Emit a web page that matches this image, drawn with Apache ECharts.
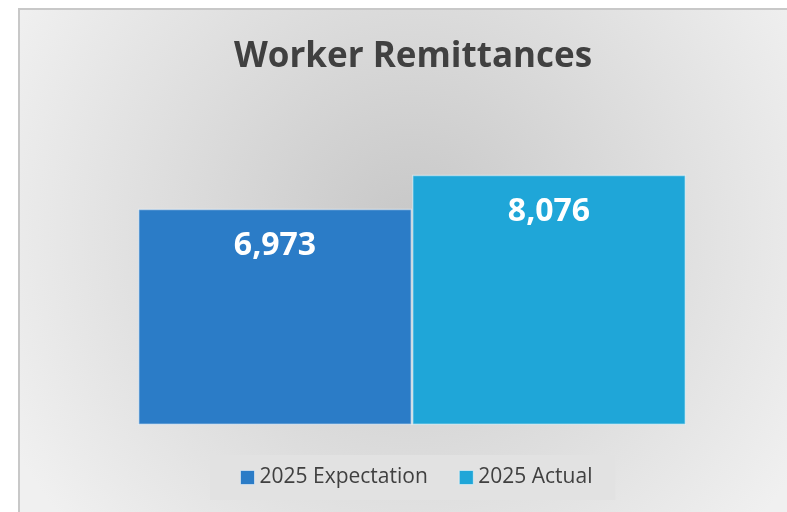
<!DOCTYPE html>
<html>
<head>
<meta charset="utf-8">
<style>
  html, body { margin: 0; padding: 0; background: #ffffff; }
  #chart { width: 787px; height: 512px; }
</style>
<script src="https://cdn.jsdelivr.net/npm/echarts@6/dist/echarts.min.js"></script>
</head>
<body>
<div id="chart"></div>
<script>
// Worker remittances, 2025: expectation vs. actual
const categories = ['2025'];
const seriesNames = ['2025 Expectation', '2025 Actual'];
const expectationValues = [6973];
const actualValues = [8076];
const chartTitle = 'Worker Remittances';

const colors = ['#2b7cc7', '#1fa6d8'];
const fontFamily = '"Open Sans", "Noto Sans", sans-serif';

const chart = echarts.init(document.getElementById('chart'), null, { renderer: 'canvas' });

const fmt = (v) => v.toLocaleString('en-US');

function barSeries(name, data, color) {
  return {
    name: name,
    type: 'bar',
    data: data,
    barGap: 0,
    barCategoryGap: 0,
    itemStyle: {
      color: color,
      borderColor: 'rgba(255,255,255,0.45)',
      borderWidth: 1.5
    },
    label: {
      show: true,
      position: 'insideTop',
      distance: 21,
      color: '#ffffff',
      fontSize: 32,
      fontWeight: 'bold',
      fontFamily: fontFamily,
      formatter: (p) => fmt(p.value)
    }
  };
}

chart.setOption({
  animation: false,
  graphic: [{
    type: 'rect',
    z: -10,
    silent: true,
    shape: { x: 19, y: 9, width: 800, height: 530 },
    style: {
      fill: {
        type: 'radial',
        x: 0.49, y: 0.42, r: 0.85,
        colorStops: [
          { offset: 0, color: '#c7c7c7' },
          { offset: 1, color: '#f0f0f0' }
        ]
      },
      stroke: '#c8c8c8',
      lineWidth: 2
    }
  }],
  title: {
    text: chartTitle,
    left: 408,
    top: 35,
    textAlign: 'center',
    textStyle: {
      fontFamily: fontFamily,
      fontSize: 35,
      fontWeight: 'bold',
      color: '#404040'
    }
  },
  legend: {
    data: seriesNames,
    left: 210,
    top: 455,
    padding: [12, 23, 12, 30],
    backgroundColor: '#e2e2e2',
    itemWidth: 14,
    itemHeight: 14,
    itemGap: 31,
    icon: 'rect',
    itemStyle: { borderColor: 'rgba(255,255,255,0.5)', borderWidth: 1 },
    textStyle: {
      fontFamily: fontFamily,
      fontSize: 21,
      color: '#404040'
    }
  },
  grid: { left: 138, right: 101, top: 146, bottom: 87 },
  xAxis: { type: 'category', data: categories, show: false },
  yAxis: { type: 'value', min: 0, max: 9000, show: false },
  series: [
    barSeries(seriesNames[0], expectationValues, colors[0]),
    barSeries(seriesNames[1], actualValues, colors[1])
  ]
});
</script>
</body>
</html>
